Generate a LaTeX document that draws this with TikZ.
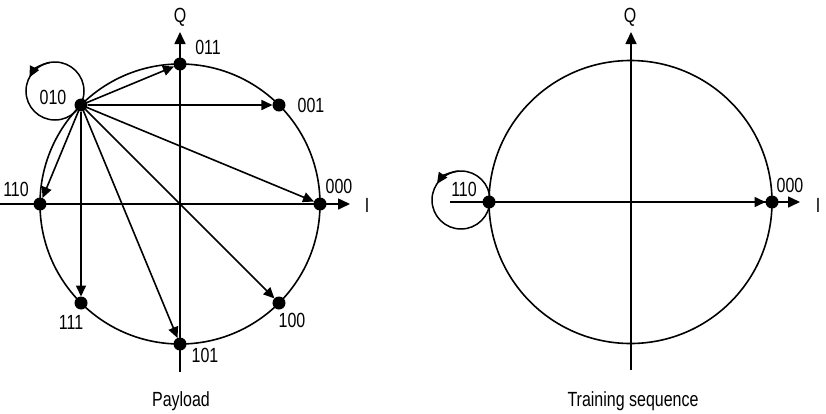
\documentclass[tikz,border=0pt]{standalone}
\usepackage{fontspec}
\setmainfont{Liberation Sans}[FakeStretch=0.78]
\usetikzlibrary{arrows.meta}
\begin{document}
\begin{tikzpicture}[x=1pt,y=1pt,
  line width=1.6pt,
  dot/.style={circle,fill=black,inner sep=0pt,outer sep=0pt,minimum size=13pt},
  lbl/.style={inner sep=0pt,font=\fontsize{20.5}{23}\selectfont},
  tr/.style={-{Triangle[length=11pt,width=10pt]}},
  ax/.style={-{Triangle[length=12pt,width=11pt]}},
  loopc/.style={circle,draw,line width=1.5pt,inner sep=0pt,outer sep=0pt,minimum size=58pt},
  bigc/.style={circle,draw,line width=1.6pt,inner sep=0pt,outer sep=0pt},
]
\useasboundingbox (0,0) rectangle (826,-413);

% ---------- Left: Payload ----------
\coordinate (LxA) at (0,-204);
\coordinate (LxB) at (350,-204);
\coordinate (LyA) at (180,-372);
\coordinate (LyB) at (180,-32);
\draw[ax] (LxA) -- (LxB);
\draw[ax] (LyA) -- (LyB);
\node[bigc,minimum size=280pt] (C1) at (180,-204) {};

\foreach \n/\a in {000/0,001/45,011/90,010/135,110/180,111/225,101/270,100/315}
  \node[dot] (L\n) at ([shift={(180,-204)}]\a:140) {};

\foreach \t in {011,001,000,100,101,111,110}
  \draw[tr] (L010) -- (L\t);

\node[loopc] (LL) at (55,-91) {};
\draw[tr,line width=1.5pt] (LL.100) arc[start angle=100,end angle=152,radius=29];

\node[lbl] (l011) at (208,-47) {011};
\node[lbl] (l001) at (311,-105) {001};
\node[lbl] (l000) at (339,-186) {000};
\node[lbl] (l100) at (292,-320) {100};
\node[lbl] (l101) at (205,-355) {101};
\node[lbl] (l111) at (71,-322) {111};
\node[lbl] (l110) at (16,-189) {110};
\node[lbl] (l010) at (53,-97) {010};
\node[lbl] (lQ) at (180,-17) {Q};
\node[lbl] (lI) at (367,-205) {I};
\node[lbl,anchor=base] (lP) at (181,-406) {Payload};

% ---------- Right: Training sequence ----------
\coordinate (RxA) at (450,-202);
\coordinate (RxB) at (800,-202);
\coordinate (RyA) at (631,-370);
\coordinate (RyB) at (631,-32);
\draw[ax] (RxA) -- (RxB);
\draw[ax] (RyA) -- (RyB);
\node[bigc,minimum size=283pt] (C2) at (630.5,-202) {};

\node[dot] (R110) at (489,-202) {};
\node[dot] (R000) at (772,-202) {};
\draw[tr] (R110) -- (R000);

\node[loopc] (RL) at (461,-200) {};
\draw[tr,line width=1.5pt] (RL.95) arc[start angle=95,end angle=146,radius=29];

\node[lbl] (r110) at (464,-189) {110};
\node[lbl] (r000) at (790,-185) {000};
\node[lbl] (rQ) at (630,-17) {Q};
\node[lbl] (rI) at (818,-205) {I};
\node[lbl,anchor=base] (rT) at (633,-406) {Training sequence};
\end{tikzpicture}
\end{document}
